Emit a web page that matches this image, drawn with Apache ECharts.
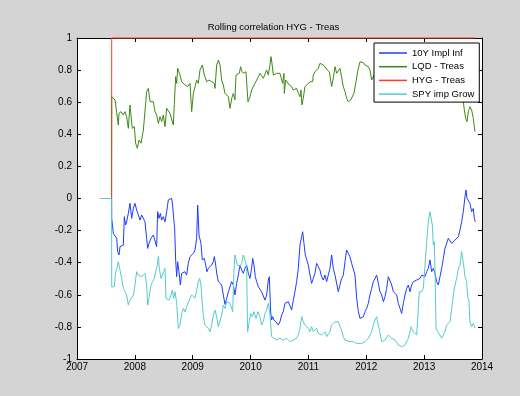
<!DOCTYPE html>
<html>
<head>
<meta charset="utf-8">
<script src="https://cdn.jsdelivr.net/npm/echarts@6/dist/echarts.min.js"></script>
<style>
  html, body { margin: 0; padding: 0; background: #d4d4d4; }
  #chart { width: 520px; height: 396px; }
</style>
</head>
<body>
<div id="chart"></div>
<script>
// Rolling correlations against HYG - Treas, [decimal year, correlation]
const chartTitle = 'Rolling correlation HYG - Treas';
const seriesNames = ['10Y Impl Inf', 'LQD - Treas', 'HYG - Treas', 'SPY imp Grow'];

const implInf10Y = [
[2007.410,0],[2007.598,0],[2007.600,-0.124],[2007.628,-0.217],[2007.657,-0.228],[2007.686,-0.248],[2007.703,-0.331],[2007.726,-0.352],[2007.743,-0.300],[2007.772,-0.311],[2007.801,-0.290],[2007.818,-0.113],[2007.841,-0.165],[2007.858,-0.145],[2007.887,-0.093],[2007.916,-0.030],[2007.945,-0.124],[2007.974,-0.062],[2008.002,-0.030],[2008.031,-0.072],[2008.060,-0.103],[2008.089,-0.134],[2008.118,-0.103],[2008.147,-0.113],[2008.175,-0.145],[2008.204,-0.248],[2008.221,-0.311],[2008.244,-0.280],[2008.279,-0.248],[2008.319,-0.228],[2008.348,-0.217],[2008.377,-0.300],[2008.394,-0.082],[2008.417,-0.124],[2008.440,-0.093],[2008.463,-0.134],[2008.492,-0.113],[2008.521,-0.145],[2008.550,-0.082],[2008.579,-0.009],[2008.607,-0.020],[2008.636,0.001],[2008.653,-0.041],[2008.671,-0.124],[2008.688,-0.186],[2008.705,-0.383],[2008.723,-0.487],[2008.740,-0.394],[2008.763,-0.456],[2008.786,-0.539],[2008.809,-0.466],[2008.838,-0.477],[2008.867,-0.456],[2008.895,-0.477],[2008.924,-0.404],[2008.953,-0.362],[2008.982,-0.373],[2009.011,-0.342],[2009.040,-0.321],[2009.068,-0.248],[2009.086,-0.041],[2009.109,-0.228],[2009.143,-0.280],[2009.166,-0.383],[2009.201,-0.373],[2009.224,-0.415],[2009.247,-0.456],[2009.270,-0.435],[2009.299,-0.446],[2009.328,-0.415],[2009.356,-0.394],[2009.374,-0.362],[2009.397,-0.415],[2009.420,-0.477],[2009.443,-0.518],[2009.472,-0.518],[2009.500,-0.539],[2009.529,-0.601],[2009.558,-0.660],[2009.587,-0.622],[2009.616,-0.581],[2009.645,-0.581],[2009.673,-0.518],[2009.702,-0.539],[2009.730,-0.601],[2009.759,-0.529],[2009.788,-0.477],[2009.817,-0.415],[2009.846,-0.446],[2009.874,-0.466],[2009.903,-0.435],[2009.932,-0.415],[2009.961,-0.466],[2009.990,-0.498],[2010.018,-0.435],[2010.036,-0.373],[2010.059,-0.415],[2010.082,-0.487],[2010.105,-0.518],[2010.134,-0.550],[2010.162,-0.539],[2010.191,-0.581],[2010.220,-0.581],[2010.249,-0.633],[2010.278,-0.601],[2010.307,-0.508],[2010.324,-0.487],[2010.347,-0.705],[2010.364,-0.757],[2010.381,-0.736],[2010.404,-0.757],[2010.439,-0.768],[2010.479,-0.788],[2010.508,-0.768],[2010.537,-0.726],[2010.566,-0.705],[2010.595,-0.653],[2010.623,-0.664],[2010.652,-0.643],[2010.681,-0.653],[2010.710,-0.695],[2010.739,-0.633],[2010.767,-0.581],[2010.796,-0.518],[2010.825,-0.435],[2010.854,-0.290],[2010.883,-0.238],[2010.900,-0.207],[2010.923,-0.280],[2010.946,-0.352],[2010.969,-0.363],[2010.998,-0.415],[2011.027,-0.477],[2011.055,-0.529],[2011.084,-0.498],[2011.113,-0.466],[2011.142,-0.404],[2011.171,-0.425],[2011.199,-0.446],[2011.228,-0.487],[2011.257,-0.508],[2011.286,-0.477],[2011.315,-0.518],[2011.344,-0.529],[2011.372,-0.435],[2011.401,-0.352],[2011.430,-0.435],[2011.459,-0.477],[2011.488,-0.477],[2011.516,-0.581],[2011.545,-0.539],[2011.574,-0.498],[2011.603,-0.477],[2011.632,-0.394],[2011.660,-0.321],[2011.689,-0.321],[2011.718,-0.363],[2011.747,-0.404],[2011.776,-0.415],[2011.805,-0.477],[2011.834,-0.622],[2011.863,-0.705],[2011.891,-0.747],[2011.920,-0.757],[2011.949,-0.736],[2011.978,-0.705],[2012.007,-0.685],[2012.035,-0.653],[2012.064,-0.601],[2012.093,-0.560],[2012.122,-0.518],[2012.151,-0.498],[2012.179,-0.477],[2012.208,-0.529],[2012.237,-0.581],[2012.266,-0.601],[2012.295,-0.643],[2012.323,-0.612],[2012.352,-0.560],[2012.381,-0.487],[2012.410,-0.477],[2012.439,-0.539],[2012.468,-0.581],[2012.496,-0.591],[2012.525,-0.601],[2012.554,-0.653],[2012.583,-0.685],[2012.612,-0.716],[2012.640,-0.653],[2012.669,-0.601],[2012.698,-0.560],[2012.727,-0.539],[2012.756,-0.581],[2012.784,-0.539],[2012.813,-0.518],[2012.842,-0.529],[2012.871,-0.508],[2012.900,-0.518],[2012.928,-0.498],[2012.957,-0.477],[2012.986,-0.466],[2013.015,-0.487],[2013.044,-0.456],[2013.072,-0.435],[2013.101,-0.383],[2013.130,-0.456],[2013.159,-0.435],[2013.188,-0.466],[2013.216,-0.518],[2013.245,-0.539],[2013.274,-0.487],[2013.303,-0.435],[2013.332,-0.373],[2013.360,-0.311],[2013.389,-0.321],[2013.418,-0.248],[2013.447,-0.248],[2013.476,-0.280],[2013.504,-0.290],[2013.533,-0.259],[2013.562,-0.269],[2013.591,-0.238],[2013.620,-0.196],[2013.648,-0.145],[2013.677,-0.082],[2013.706,0.011],[2013.723,0.053],[2013.741,0.001],[2013.764,-0.009],[2013.792,-0.030],[2013.821,-0.082],[2013.850,-0.062],[2013.867,-0.124],[2013.885,-0.145]
];

const lqdTreas = [
[2007.410,0],[2007.598,0],[2007.600,0.634],[2007.611,0.634],[2007.657,0.614],[2007.686,0.614],[2007.714,0.458],[2007.726,0.531],[2007.761,0.541],[2007.801,0.520],[2007.830,0.541],[2007.858,0.510],[2007.887,0.437],[2007.916,0.583],[2007.933,0.593],[2007.956,0.437],[2007.991,0.448],[2008.014,0.344],[2008.043,0.313],[2008.072,0.364],[2008.106,0.344],[2008.147,0.427],[2008.175,0.416],[2008.204,0.666],[2008.233,0.686],[2008.262,0.603],[2008.291,0.593],[2008.319,0.603],[2008.348,0.541],[2008.377,0.520],[2008.406,0.468],[2008.435,0.510],[2008.463,0.479],[2008.492,0.520],[2008.521,0.448],[2008.550,0.562],[2008.579,0.551],[2008.607,0.531],[2008.636,0.520],[2008.665,0.458],[2008.682,0.448],[2008.705,0.759],[2008.723,0.717],[2008.740,0.811],[2008.780,0.769],[2008.809,0.728],[2008.867,0.707],[2008.913,0.697],[2008.953,0.717],[2008.982,0.541],[2009.011,0.655],[2009.040,0.697],[2009.068,0.738],[2009.097,0.717],[2009.126,0.801],[2009.166,0.832],[2009.201,0.769],[2009.241,0.728],[2009.281,0.738],[2009.328,0.728],[2009.374,0.717],[2009.385,0.686],[2009.414,0.832],[2009.443,0.863],[2009.472,0.832],[2009.500,0.738],[2009.529,0.707],[2009.558,0.655],[2009.587,0.666],[2009.616,0.634],[2009.645,0.562],[2009.674,0.624],[2009.702,0.655],[2009.730,0.614],[2009.748,0.769],[2009.771,0.759],[2009.805,0.780],[2009.828,0.821],[2009.851,0.790],[2009.886,0.780],[2009.921,0.790],[2009.944,0.780],[2009.955,0.603],[2009.990,0.634],[2010.018,0.676],[2010.047,0.686],[2010.076,0.717],[2010.105,0.738],[2010.134,0.759],[2010.162,0.780],[2010.191,0.769],[2010.220,0.749],[2010.249,0.738],[2010.278,0.801],[2010.307,0.769],[2010.335,0.832],[2010.353,0.884],[2010.370,0.842],[2010.393,0.769],[2010.422,0.780],[2010.451,0.780],[2010.508,0.780],[2010.537,0.769],[2010.554,0.717],[2010.577,0.780],[2010.583,0.655],[2010.606,0.738],[2010.635,0.728],[2010.669,0.707],[2010.710,0.697],[2010.739,0.676],[2010.767,0.666],[2010.796,0.686],[2010.825,0.655],[2010.854,0.634],[2010.871,0.676],[2010.888,0.583],[2010.911,0.624],[2010.940,0.697],[2010.969,0.707],[2010.998,0.717],[2011.038,0.728],[2011.073,0.728],[2011.084,0.769],[2011.113,0.790],[2011.142,0.780],[2011.171,0.811],[2011.199,0.842],[2011.228,0.832],[2011.257,0.832],[2011.286,0.821],[2011.326,0.801],[2011.361,0.790],[2011.401,0.697],[2011.430,0.749],[2011.459,0.821],[2011.488,0.780],[2011.516,0.790],[2011.545,0.811],[2011.574,0.821],[2011.603,0.697],[2011.632,0.666],[2011.660,0.624],[2011.689,0.603],[2011.730,0.614],[2011.764,0.614],[2011.787,0.655],[2011.822,0.728],[2011.856,0.801],[2011.891,0.852],[2011.920,0.842],[2011.949,0.846],[2011.978,0.832],[2012.007,0.832],[2012.035,0.821],[2012.064,0.801],[2012.093,0.738],[2012.122,0.749],[2012.150,0.780],[2012.200,0.800],[2012.250,0.760],[2012.300,0.790],[2012.350,0.820],[2012.400,0.780],[2012.450,0.740],[2012.500,0.770],[2012.550,0.800],[2012.600,0.830],[2012.650,0.810],[2012.700,0.780],[2012.750,0.800],[2012.800,0.820],[2012.850,0.790],[2012.900,0.760],[2012.950,0.720],[2013.000,0.750],[2013.050,0.780],[2013.100,0.740],[2013.150,0.700],[2013.200,0.730],[2013.250,0.760],[2013.300,0.720],[2013.350,0.690],[2013.400,0.720],[2013.450,0.700],[2013.500,0.670],[2013.550,0.690],[2013.600,0.660],[2013.650,0.640],[2013.677,0.603],[2013.695,0.551],[2013.718,0.499],[2013.741,0.479],[2013.764,0.541],[2013.792,0.572],[2013.821,0.551],[2013.850,0.499],[2013.867,0.448],[2013.879,0.416]
];

const hygTreas = [[2007.410,0],[2007.598,0],[2007.600,1],[2013.879,1]];

const spyImpGrow = [
[2007.410,0],[2007.598,0],[2007.600,-0.550],[2007.645,-0.550],[2007.668,-0.456],[2007.691,-0.435],[2007.714,-0.394],[2007.743,-0.446],[2007.772,-0.498],[2007.801,-0.560],[2007.830,-0.581],[2007.858,-0.601],[2007.887,-0.664],[2007.916,-0.633],[2007.945,-0.643],[2007.974,-0.601],[2008.002,-0.539],[2008.031,-0.456],[2008.060,-0.477],[2008.089,-0.487],[2008.118,-0.487],[2008.147,-0.477],[2008.175,-0.466],[2008.204,-0.539],[2008.221,-0.664],[2008.244,-0.622],[2008.279,-0.539],[2008.308,-0.518],[2008.337,-0.498],[2008.360,-0.498],[2008.388,-0.414],[2008.406,-0.362],[2008.423,-0.435],[2008.452,-0.498],[2008.475,-0.487],[2008.498,-0.456],[2008.521,-0.435],[2008.538,-0.622],[2008.561,-0.622],[2008.590,-0.633],[2008.625,-0.601],[2008.648,-0.570],[2008.671,-0.622],[2008.694,-0.581],[2008.723,-0.653],[2008.751,-0.810],[2008.780,-0.790],[2008.809,-0.716],[2008.838,-0.685],[2008.867,-0.706],[2008.895,-0.674],[2008.924,-0.664],[2008.953,-0.622],[2008.982,-0.601],[2009.011,-0.612],[2009.040,-0.622],[2009.068,-0.633],[2009.097,-0.518],[2009.120,-0.498],[2009.143,-0.539],[2009.166,-0.664],[2009.189,-0.747],[2009.212,-0.789],[2009.241,-0.778],[2009.270,-0.809],[2009.299,-0.830],[2009.328,-0.789],[2009.356,-0.726],[2009.385,-0.695],[2009.414,-0.737],[2009.443,-0.799],[2009.472,-0.789],[2009.500,-0.726],[2009.529,-0.664],[2009.558,-0.685],[2009.587,-0.643],[2009.616,-0.633],[2009.645,-0.653],[2009.673,-0.685],[2009.690,-0.705],[2009.713,-0.456],[2009.730,-0.352],[2009.748,-0.363],[2009.771,-0.415],[2009.794,-0.404],[2009.817,-0.425],[2009.846,-0.404],[2009.874,-0.352],[2009.903,-0.383],[2009.932,-0.425],[2009.949,-0.830],[2009.972,-0.840],[2010.001,-0.716],[2010.030,-0.736],[2010.059,-0.705],[2010.093,-0.747],[2010.128,-0.705],[2010.162,-0.736],[2010.191,-0.788],[2010.220,-0.768],[2010.249,-0.716],[2010.278,-0.695],[2010.307,-0.653],[2010.335,-0.726],[2010.364,-0.861],[2010.393,-0.871],[2010.451,-0.882],[2010.508,-0.871],[2010.566,-0.882],[2010.623,-0.871],[2010.681,-0.892],[2010.739,-0.882],[2010.796,-0.871],[2010.825,-0.851],[2010.854,-0.809],[2010.883,-0.736],[2010.911,-0.768],[2010.940,-0.788],[2010.969,-0.778],[2010.998,-0.809],[2011.027,-0.830],[2011.055,-0.799],[2011.084,-0.830],[2011.113,-0.820],[2011.142,-0.809],[2011.171,-0.840],[2011.199,-0.851],[2011.228,-0.851],[2011.257,-0.840],[2011.286,-0.830],[2011.315,-0.861],[2011.344,-0.851],[2011.372,-0.830],[2011.401,-0.788],[2011.430,-0.778],[2011.459,-0.768],[2011.488,-0.757],[2011.516,-0.768],[2011.545,-0.799],[2011.574,-0.820],[2011.603,-0.861],[2011.632,-0.882],[2011.660,-0.882],[2011.718,-0.892],[2011.776,-0.892],[2011.833,-0.903],[2011.863,-0.892],[2011.920,-0.903],[2011.978,-0.892],[2012.035,-0.871],[2012.093,-0.830],[2012.122,-0.788],[2012.151,-0.757],[2012.179,-0.736],[2012.208,-0.788],[2012.237,-0.840],[2012.266,-0.892],[2012.323,-0.882],[2012.381,-0.851],[2012.439,-0.871],[2012.496,-0.882],[2012.554,-0.913],[2012.612,-0.923],[2012.669,-0.913],[2012.727,-0.871],[2012.773,-0.799],[2012.813,-0.830],[2012.871,-0.851],[2012.900,-0.851],[2012.917,-0.581],[2012.940,-0.591],[2012.957,-0.581],[2012.986,-0.560],[2013.015,-0.415],[2013.044,-0.269],[2013.072,-0.145],[2013.101,-0.082],[2013.118,-0.072],[2013.141,-0.165],[2013.159,-0.290],[2013.176,-0.269],[2013.193,-0.539],[2013.205,-0.809],[2013.233,-0.830],[2013.274,-0.851],[2013.303,-0.871],[2013.332,-0.851],[2013.360,-0.830],[2013.389,-0.788],[2013.418,-0.788],[2013.447,-0.768],[2013.476,-0.685],[2013.504,-0.601],[2013.533,-0.539],[2013.562,-0.498],[2013.591,-0.435],[2013.620,-0.415],[2013.648,-0.331],[2013.660,-0.321],[2013.683,-0.415],[2013.706,-0.487],[2013.735,-0.518],[2013.752,-0.612],[2013.775,-0.643],[2013.792,-0.768],[2013.821,-0.799],[2013.850,-0.778],[2013.879,-0.809]
];

const lineColors = ['#1f3cff', '#3a8a14', '#ff3c1e', '#55cccc'];
const FONT = '"Liberation Sans", Arial, Helvetica, sans-serif';

const chart = echarts.init(document.getElementById('chart'), null, { renderer: 'canvas' });

function lineSeries(name, data, color) {
  return {
    type: 'line', name: name, data: data,
    xAxisIndex: 0, yAxisIndex: 0,
    symbol: 'none', showSymbol: false, clip: false,
    lineStyle: { width: 1, color: color },
    itemStyle: { color: color },
    emphasis: { disabled: true }
  };
}

function frameAxis(dim, position, showLabels) {
  const isX = dim === 'x';
  return {
    type: 'value',
    position: position,
    min: isX ? 2007 : -1,
    max: isX ? 2014 : 1,
    interval: isX ? 1 : 0.2,
    axisLine: { show: true, onZero: false, lineStyle: { color: '#000', width: 1 } },
    axisTick: { show: true, inside: true, length: 4, lineStyle: { color: '#000', width: 1 } },
    axisLabel: {
      show: showLabels, color: '#000', fontSize: 10, fontFamily: FONT,
      margin: isX ? 3 : 5,
      formatter: isX ? (v => String(v)) : (v => String(Math.round(v * 10) / 10))
    },
    splitLine: { show: false }
  };
}

chart.setOption({
  animation: false,
  backgroundColor: '#d4d4d4',
  textStyle: { fontFamily: FONT },
  grid: {
    left: 77, right: 38, top: 38, bottom: 37,
    containLabel: false, outerBoundsMode: 'none',
    show: true, backgroundColor: '#ffffff', borderWidth: 0
  },
  graphic: [{
    type: 'text', x: 273.5, y: 27, silent: true,
    style: { text: chartTitle, fill: '#000', font: '9.5px ' + FONT, align: 'center', verticalAlign: 'middle' }
  }],
  legend: {
    data: seriesNames,
    orient: 'vertical', left: 374, top: 43,
    padding: [4, 5, 2, 5], itemGap: 1.7,
    itemWidth: 28, itemHeight: 1.5, icon: 'rect',
    backgroundColor: '#ffffff', borderColor: '#000', borderWidth: 1, borderRadius: 0,
    selectedMode: false,
    textStyle: { fontSize: 9.5, color: '#000', lineHeight: 12, fontFamily: FONT }
  },
  xAxis: [frameAxis('x', 'bottom', true), frameAxis('x', 'top', false)],
  yAxis: [frameAxis('y', 'left', true), frameAxis('y', 'right', false)],
  series: [
    lineSeries(seriesNames[0], implInf10Y, lineColors[0]),
    lineSeries(seriesNames[1], lqdTreas, lineColors[1]),
    lineSeries(seriesNames[2], hygTreas, lineColors[2]),
    lineSeries(seriesNames[3], spyImpGrow, lineColors[3])
  ]
});
</script>
</body>
</html>
